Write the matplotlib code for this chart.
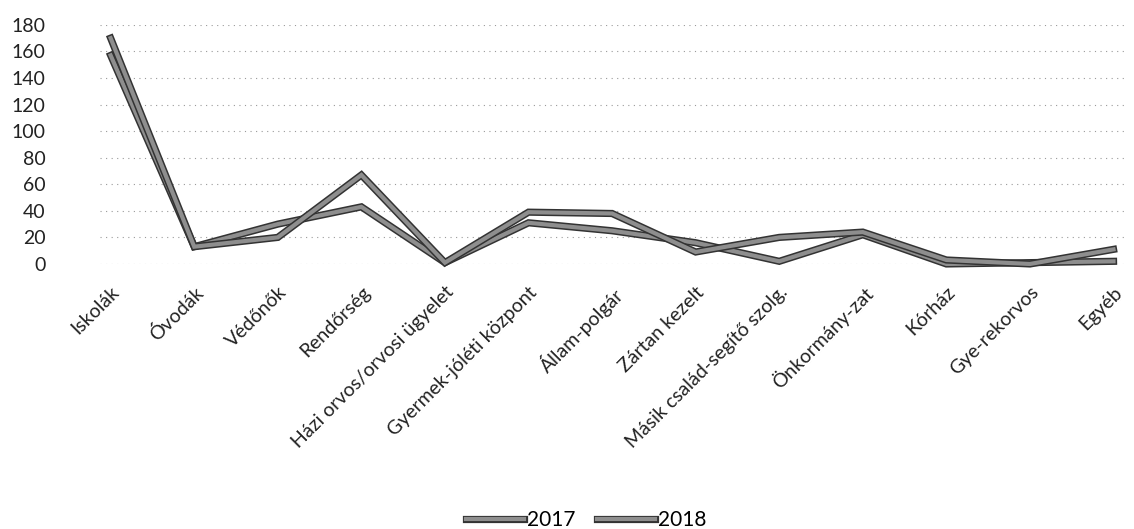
import matplotlib.pyplot as plt
import matplotlib.patheffects as pe

plt.rcParams['font.family'] = ['Lato', 'DejaVu Sans']

categories = ['Iskolák', 'Óvodák', 'Védőnők', 'Rendőrség', 'Házi orvos/orvosi ügyelet',
              'Gyermek-jóléti központ', 'Állam-polgár', 'Zártan kezelt',
              'Másik család-segítő szolg.', 'Önkormány-zat', 'Kórház', 'Gye-rekorvos', 'Egyéb']
y2017 = [157, 13, 30, 43, 1, 31, 25, 16, 2, 22, 0, 1, 2]
y2018 = [170, 13, 20, 67, 1, 39, 38, 9, 20, 24, 3, 0, 11]
yticks = [0, 20, 40, 60, 80, 100, 120, 140, 160, 180]

fig = plt.figure(figsize=(11.34, 5.29), dpi=100)
ax = fig.add_axes([0.088, 0.501, 0.905, 0.452])

x = list(range(len(categories)))
for vals, lab in [(y2017, '2017'), (y2018, '2018')]:
    ax.plot(x, vals, color='#8e8e8e', lw=3.0, label=lab, clip_on=False,
            solid_joinstyle='miter',
            path_effects=[pe.Stroke(linewidth=5.2, foreground='#333333'), pe.Normal()])

ax.set_ylim(0, 180)
ax.set_xlim(-0.13, 12.15)
ax.set_yticks(yticks)
ax.set_xticks(x)
ax.set_xticklabels(categories, rotation=45, ha='right', rotation_mode='anchor')
ax.tick_params(axis='both', length=0, labelsize=14, colors='#222222')
ax.tick_params(axis='x', pad=14)
ax.tick_params(axis='y', pad=39)
ax.yaxis.grid(True, linestyle=(0, (1, 4)), color='#9a9a9a', lw=0.8)
ax.set_axisbelow(True)
for s in ax.spines.values():
    s.set_visible(False)

fig.legend(loc='center', bbox_to_anchor=(0.517, 0.017), ncol=2, frameon=False,
           fontsize=15, handlelength=2.8, handletextpad=0.15, columnspacing=1.0,
           borderaxespad=0, borderpad=0)

fig.savefig('out.png', dpi=100)
